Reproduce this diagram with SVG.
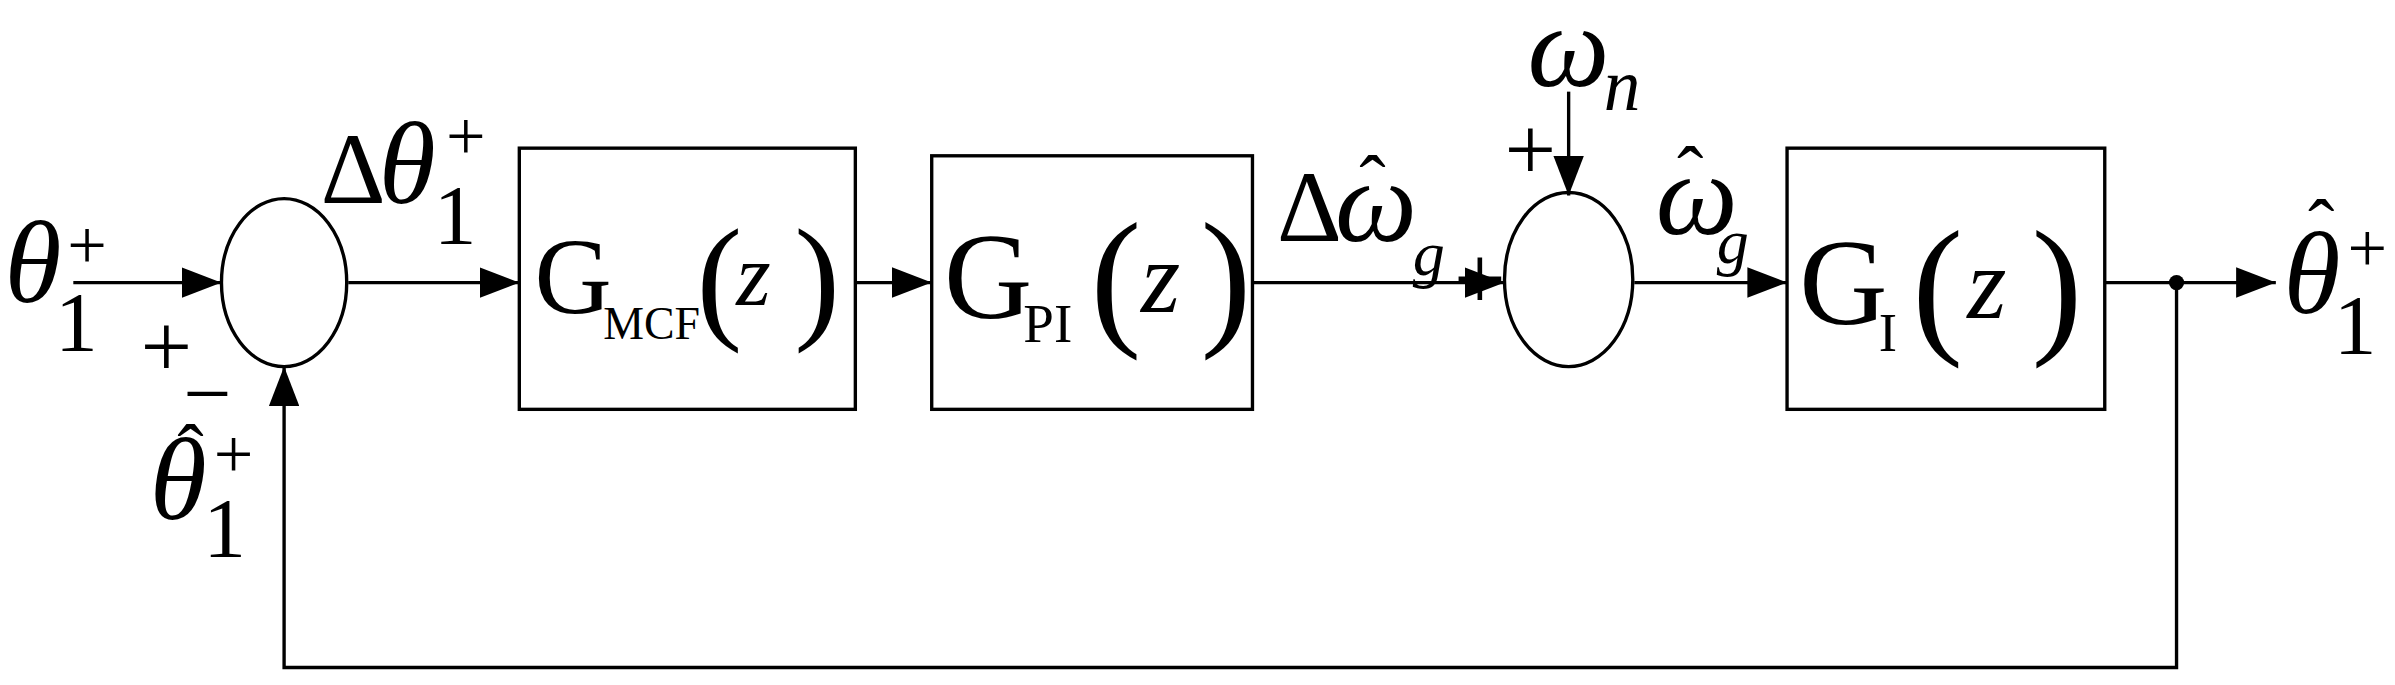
<svg xmlns="http://www.w3.org/2000/svg" width="2395" height="685" viewBox="0 0 2395 685">
<style>
.s{fill:none;stroke:#000;stroke-width:2.2}
text{font-family:"Liberation Serif","Times New Roman",serif;fill:#000}
.i{font-style:italic}
.gr{font-size:76px;font-style:italic}
.sb{font-size:56px}
.sp{font-size:46px}
.pl{font-size:60px}
.h{font-size:52px}
</style>
<defs>
<marker id="b" markerWidth="26" markerHeight="20" refX="26" refY="10" orient="auto" markerUnits="userSpaceOnUse"><path d="M0,0L26,10L0,20Z" fill="#000"/></marker></defs>
<rect width="2395" height="685" fill="#fff"/>
<g transform="scale(1.5274)">
<g id="connectors" class="s">
<path d="M48,185H145" marker-end="url(#b)"/>
<path d="M228,185H340" marker-end="url(#b)"/>
<path d="M560,185H610" marker-end="url(#b)"/>
<path d="M820,185H985" marker-end="url(#b)"/>
<path d="M1027,60V128" marker-end="url(#b)"/>
<path d="M1070,185H1170" marker-end="url(#b)"/>
<path d="M1378,185H1490" marker-end="url(#b)"/>
<path d="M1425,185V437H186V240" marker-end="url(#b)"/>
<circle cx="1425" cy="185" r="5" fill="#000" stroke="none"/>
</g>
<g id="sum1"><ellipse class="s" cx="186" cy="185" rx="41" ry="55"/></g>
<g id="sum2"><ellipse class="s" cx="1027" cy="183" rx="42" ry="57"/></g>
<g id="gmcf"><rect class="s" x="340" y="97" width="220" height="171"/>
<text x="350" y="205" font-size="70">G</text><text x="395" y="222" font-size="30">MCF</text>
<text x="456" y="212" font-size="90">(</text><text x="482" y="200" font-size="58" class="i">z</text><text x="520" y="212" font-size="90">)</text></g>
<g id="gpi"><rect class="s" x="610" y="102" width="210" height="166"/>
<text x="618" y="208" font-size="80">G</text><text x="670" y="224" font-size="36">PI</text>
<text x="714" y="215" font-size="100">(</text><text x="747" y="204" font-size="66" class="i">z</text><text x="786" y="215" font-size="100">)</text></g>
<g id="gi"><rect class="s" x="1170" y="97" width="208" height="171"/>
<text x="1178" y="212" font-size="80">G</text><text x="1230" y="230" font-size="36">I</text>
<text x="1252" y="220" font-size="100">(</text><text x="1288" y="208" font-size="66" class="i">z</text><text x="1330" y="220" font-size="100">)</text></g>
<g id="labels">
<text x="3" y="198" class="gr">θ</text><text x="36" y="230" class="sb">1</text><text x="44" y="176" class="sp">+</text>
<text x="92" y="247" class="pl">+</text>
<text x="210" y="133" font-size="66">Δ</text><text x="248" y="133" class="gr">θ</text><text x="284" y="160" class="sb">1</text><text x="292" y="105" class="sp">+</text>
<text x="120" y="276" font-size="56">−</text>
<text x="116" y="314" class="h">ˆ</text><text x="98" y="340" class="gr">θ</text><text x="133" y="365" class="sb">1</text><text x="140" y="313" class="sp">+</text>
<text x="836" y="158" font-size="66">Δ</text><text x="890" y="138" class="h">ˆ</text><text x="874" y="158" class="gr">ω</text><text x="925" y="180" font-size="42" class="i">g</text>
<text x="952" y="202" class="pl">+</text>
<text x="1000" y="56" class="gr">ω</text><text x="1050" y="72" font-size="48" class="i">n</text>
<text x="985" y="118" class="pl">+</text>
<text x="1098" y="132" class="h">ˆ</text><text x="1084" y="153" class="gr">ω</text><text x="1124" y="172" font-size="42" class="i">g</text>
<text x="1511" y="167" class="h">ˆ</text><text x="1495" y="205" class="gr">θ</text><text x="1528" y="232" class="sb">1</text><text x="1537" y="178" class="sp">+</text>
</g>
</g>
</svg>
